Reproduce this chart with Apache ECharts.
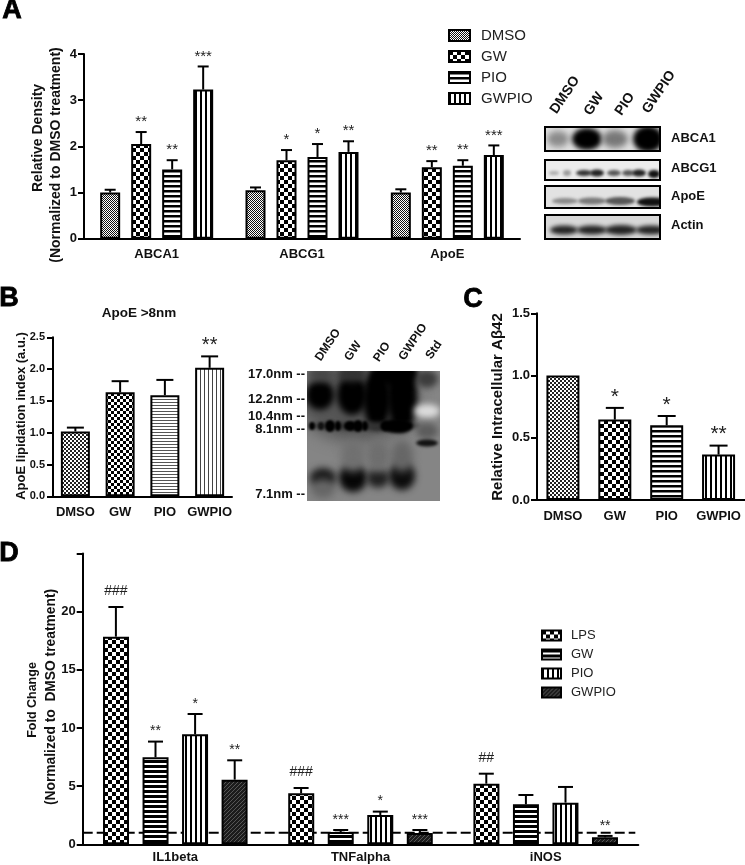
<!DOCTYPE html>
<html><head><meta charset="utf-8">
<style>html,body{margin:0;padding:0;background:#fff}#c{width:745px;height:865px}</style>
<script src="https://cdn.jsdelivr.net/npm/echarts@6/dist/echarts.min.js"></script>
</head><body><div id="c"></div>
<script>
// ---- data ----
const aCats = ['ABCA1','ABCG1','ApoE'];
const aNames = ['DMSO','GW','PIO','GWPIO'];
const aDMSO = [1.0,1.05,1.0];      const aDMSOErr = [1.06,1.11,1.07];
const aGW = [2.05,1.70,1.55];      const aGWErr = [2.31,1.92,1.68];
const aPIO = [1.50,1.77,1.58];     const aPIOErr = [1.70,2.05,1.70];
const aGWPIO = [3.23,1.88,1.81];   const aGWPIOErr = [3.73,2.11,2.02];
const aDMSOSig = ['','',''];       const aGWSig = ['**','*','**'];
const aPIOSig = ['**','*','**'];   const aGWPIOSig = ['***','**','***'];

const bCats = ['DMSO','GW','PIO','GWPIO'];
const bVals = [1.02,1.635,1.59,2.02];
const bErr = [1.08,1.81,1.83,2.20];
const bSig = ['','','','**'];

const cCats = ['DMSO','GW','PIO','GWPIO'];
const cVals = [1.0,0.646,0.60,0.365];
const cErr = [1.0,0.74,0.675,0.437];
const cSig = ['','*','*','**'];

const dCats = ['IL1beta','TNFalpha','iNOS'];
const dNames = ['LPS','GW','PIO','GWPIO'];
const dLPS = [17.85,4.38,5.21];    const dLPSErr = [20.4,4.84,6.07];
const dGW = [7.48,1.06,3.44];      const dGWErr = [8.83,1.23,4.24];
const dPIO = [9.46,2.52,3.58];     const dPIOErr = [11.2,2.81,4.93];
const dGWPIO = [5.56,0.97,0.60];   const dGWPIOErr = [7.22,1.23,0.72];
const dLPSSig = ['###','###','##']; const dGWSig = ['**','***',''];
const dPIOSig = ['*','*',''];      const dGWPIOSig = ['**','***','**'];
const dBaseline = [1];

// ---- patterns ----
const FONT = '"Liberation Sans", Arial, sans-serif';
function tile(w,h,draw){const c=document.createElement('canvas');c.width=w;c.height=h;const x=c.getContext('2d');x.fillStyle='#fff';x.fillRect(0,0,w,h);draw(x,w,h);return {image:c,repeat:'repeat'};}
const checker=(s,col)=>tile(s*2,s*2,(x)=>{x.fillStyle=col||'#000';x.fillRect(0,0,s,s);x.fillRect(s,s,s,s);});
const hLines=(p,t,col)=>tile(4,p,(x)=>{x.fillStyle=col||'#000';x.fillRect(0,0,4,t);});
const vLines=(p,t,col)=>tile(p,4,(x)=>{x.fillStyle=col||'#000';x.fillRect(0,0,t,4);});
const hatch=tile(4,4,(x)=>{x.fillStyle='#1c1c1c';x.fillRect(0,0,4,4);x.strokeStyle='#666';x.lineWidth=.8;x.beginPath();x.moveTo(-1,1);x.lineTo(1,-1);x.moveTo(0,4);x.lineTo(4,0);x.moveTo(3,5);x.lineTo(5,3);x.stroke();});

function xAxis(grid,cats,fs,margin){return {type:'category',gridIndex:grid,data:cats,boundaryGap:true,
  axisLine:{lineStyle:{color:'#000',width:2}},axisTick:{alignWithLabel:true,length:6,lineStyle:{color:'#000',width:2}},
  axisLabel:{interval:0,color:'#111',fontFamily:FONT,fontWeight:'bold',fontSize:fs,margin:margin},splitLine:{show:false}};}
function yAxis(grid,max,iv,fs,fmt,margin){return {type:'value',gridIndex:grid,min:0,max:max,interval:iv,
  axisLine:{show:true,lineStyle:{color:'#000',width:2}},axisTick:{show:true,length:6,lineStyle:{color:'#000',width:2}},
  axisLabel:{color:'#111',fontFamily:FONT,fontWeight:'bold',fontSize:fs,margin:margin,formatter:fmt,showMaxLabel:true,showMinLabel:true},splitLine:{show:false}};}

const series=[];
function errorSeries(grid,offset,vals,errs,sigs,o){
  series.push({type:'custom',xAxisIndex:grid,yAxisIndex:grid,z:4,silent:true,clip:false,tooltip:{show:false},
    data:vals.map((v,i)=>[i,v,errs[i]]),encode:{x:0,y:2},
    renderItem(params,api){
      const i=api.value(0),top=api.coord([i,api.value(2)]),base=api.coord([i,api.value(1)]);
      const x=top[0]+offset,ch=[];
      if(api.value(2)>api.value(1)){
        ch.push({type:'line',shape:{x1:x,y1:base[1],x2:x,y2:top[1]},style:{stroke:'#000',lineWidth:2}});
        ch.push({type:'line',shape:{x1:x-o.cap/2,y1:top[1],x2:x+o.cap/2,y2:top[1]},style:{stroke:'#000',lineWidth:2}});
      }
      const s=sigs[params.dataIndex];
      if(s){const hash=s[0]==='#';
        ch.push({type:'text',x:x,y:top[1]-(hash?o.hashGap:o.starGap),style:{text:s,fill:'#222',font:(hash?o.hashFs:o.starFs)+'px '+FONT,textAlign:'center',textVerticalAlign:'middle'}});}
      return {type:'group',children:ch};
    }});
}
function groupedBars(grid,names,vals,errs,sigs,pats,o){
  names.forEach((n,k)=>{
    series.push({type:'bar',name:n,xAxisIndex:grid,yAxisIndex:grid,z:3,barWidth:o.bw,barGap:o.gap,data:vals[k],
      itemStyle:{color:pats[k],borderColor:'#000',borderWidth:2}});
    errorSeries(grid,(k-(names.length-1)/2)*o.pitch,vals[k],errs[k],sigs[k],o);
  });
}
function singleBars(grid,vals,errs,sigs,pats,o){
  series.push({type:'bar',xAxisIndex:grid,yAxisIndex:grid,z:3,barWidth:o.bw,
    data:vals.map((v,i)=>({value:v,itemStyle:{color:pats[i],borderColor:'#000',borderWidth:2}}))});
  errorSeries(grid,0,vals,errs,sigs,o);
}

// A
groupedBars(0,aNames,[aDMSO,aGW,aPIO,aGWPIO],[aDMSOErr,aGWErr,aPIOErr,aGWPIOErr],[aDMSOSig,aGWSig,aPIOSig,aGWPIOSig],
  [checker(1,'#111'),checker(4),hLines(5,2.5),vLines(5,2)],
  {bw:20,gap:'55%',pitch:31,cap:11,starGap:10,starFs:15,hashGap:12,hashFs:14});
// B
singleBars(1,bVals,bErr,bSig,[checker(2,'#222'),checker(3),hLines(3,1,'#555'),vLines(4,1,'#444')],
  {bw:29,cap:17,starGap:11,starFs:20,hashGap:12,hashFs:14});
// C
singleBars(2,cVals,cErr,cSig,[checker(2,'#222'),checker(4),hLines(5,2.5),vLines(5,2)],
  {bw:33,cap:18,starGap:11,starFs:21,hashGap:12,hashFs:14});
// D
series.push({type:'custom',xAxisIndex:3,yAxisIndex:3,z:1,silent:true,data:dBaseline.map(v=>[0,v]),encode:{x:0,y:1},
  renderItem(p,api){const y=api.coord([0,api.value(1)])[1],cs=p.coordSys;
    return {type:'line',shape:{x1:cs.x,y1:y,x2:cs.x+cs.width-3,y2:y},style:{stroke:'#000',lineWidth:2,lineDash:[10,4]}};}});
groupedBars(3,dNames.map(n=>n+' ·D'),[dLPS,dGW,dPIO,dGWPIO],[dLPSErr,dGWErr,dPIOErr,dGWPIOErr],[dLPSSig,dGWSig,dPIOSig,dGWPIOSig],
  [checker(4),hLines(5,3),vLines(5,2),hatch],
  {bw:26,gap:'52%',pitch:39.6,cap:15,starGap:10,starFs:14,hashGap:16,hashFs:14});

// ---- blots (artwork, not chart data) ----
function blot(w,h,bg,bands){
  const c=document.createElement('canvas');c.width=w;c.height=h;const x=c.getContext('2d');
  x.fillStyle=bg;x.fillRect(0,0,w,h);
  bands.forEach(b=>{x.save();x.filter='blur('+(b[5]===undefined?2.5:b[5])+'px)';x.fillStyle=b[4];x.beginPath();x.ellipse(b[0],b[1],b[2],b[3],0,0,Math.PI*2);x.fill();x.restore();});
  return c;
}
function artwork(){
  const g=[];
  const strip=(x0,y0,w,h,bg,bands)=>{
    g.push({type:'image',x:x0,y:y0,style:{image:blot(w,h,bg,bands),x:0,y:0,width:w,height:h}});
    g.push({type:'rect',shape:{x:x0,y:y0,width:w,height:h},style:{fill:'none',stroke:'#000',lineWidth:2}});
  };
  strip(545,127,115,24,'#e0e0e0',[[13,12,11,8,'#8a8a8a',3],[42,12,15,11,'#000',2.5],[70,12,13,9,'#777',3],[103,12,15,13,'#000',2.5]]);
  strip(545,160,115,20,'#ececec',[[9,13,5,2,'#aaa',1.5],[22,13,4,3,'#999',1.5],[39,13,8,3,'#333',1.5],[52,13,7,3.5,'#222',1.5],[69,13,7,3,'#555',1.5],[83,13,6,3,'#555',1.5],[94,13,7,3.5,'#222',1.5],[109,14,6,4,'#111',1.5]]);
  strip(545,186,115,22,'#e2e2e2',[[20,15,13,3,'#888',1.5],[47,15,14,3.5,'#777',1.5],[75,15,15,4,'#555',1.5],[107,16,15,4.5,'#111',1.5]]);
  strip(545,215,115,24,'#d8d8d8',[[19,15,14,4.5,'#222',2],[47,15,15,4.5,'#222',2],[76,15,16,5,'#222',2],[106,15,15,4.5,'#222',2]]);
  const gel=blot(133,130,'#858585',[
    [50,30,60,40,'#555',8],
    [13,24,14,15,'#000',3],[45,24,15,20,'#000',3],[70,28,14,30,'#000',3],[95,25,15,36,'#000',3],
    [88,3,24,12,'#000',3],[45,3,14,8,'#333',3],[13,3,13,7,'#444',4],
    [58,55,56,4,'#333',2],
    [5,55,3,4,'#000',1],[14,55,3,4,'#111',1],[23,55,5,6,'#000',1],[31,55,3,5,'#000',1],[43,55,6,5,'#000',1],[51,55,5,6,'#000',1],[58,55,3,5,'#000',1],[78,55,4,5,'#000',1.5],[90,55,16,7,'#000',1.5],
    [16,107,13,10,'#181818',3.5],[46,107,14,14,'#060606',3.5],[71,107,11,10,'#202020',3.5],[95,105,13,14,'#0c0c0c',3.5],
    [71,85,11,16,'#6e6e6e',4],[95,85,11,16,'#666',4],[46,85,12,16,'#707070',4],[16,118,12,10,'#666',4],
    [120,8,11,9,'#3c3c3c',3],[120,40,13,7,'#dcdcdc',3],[120,60,11,8,'#5c5c5c',3],[120,72,11,3.5,'#111',1.5]]);
  g.push({type:'image',x:307,y:371,style:{image:gel,x:0,y:0,width:133,height:130}});
  const t=(text,x,y,fs,weight,rot,align,fill)=>g.push({type:'text',x:x,y:y,rotation:rot||0,z:10,
    style:{text:text,font:(weight||'bold')+' '+fs+'px '+FONT,fill:fill||'#111',textAlign:align||'center',textVerticalAlign:'middle'}});
  // panel letters
  [['A',12,11],['B',9,299],['C',473,300],['D',9,554]].forEach(a=>{
    g.push({type:'text',x:a[1],y:a[2],z:10,style:{text:a[0],font:'bold 27px '+FONT,fill:'#000',stroke:'#000',lineWidth:.8,textAlign:'center',textVerticalAlign:'middle'}});});
  const up=Math.PI/2, diag=Math.PI*56/180;
  // A
  t('Relative Density',38,138,14,'bold',up);
  t('(Normalized to DMSO treatment)',56,155,14,'bold',up);
  t('DMSO',565,95,14,'bold',diag);t('GW',594,104,14,'bold',diag);t('PIO',625,104,14,'bold',diag);t('GWPIO',659,92,14,'bold',diag);
  t('ABCA1',671,138,13,'bold',0,'left');t('ABCG1',671,168,13,'bold',0,'left');t('ApoE',671,196,13,'bold',0,'left');t('Actin',671,225,13,'bold',0,'left');
  // B
  t('ApoE >8nm',139,313,13.5,'bold');
  t('ApoE lipidation index (a.u.)',21,416,13,'bold',up);
  t('DMSO',328,345,12,'bold',diag);t('GW',353,351,12,'bold',diag);t('PIO',382,352,12,'bold',diag);t('GWPIO',413,342,12,'bold',diag);t('Std',434,350,12,'bold',diag);
  [['17.0nm --',374],['12.2nm --',399],['10.4nm --',416],['8.1nm --',429],['7.1nm --',494]].forEach(a=>t(a[0],305,a[1],13,'bold',0,'right'));
  // C
  t('Relative Intracellular A\u03b242',498,407,15,'bold',up);
  // D
  t('Fold Change',33,700,12.5,'bold',up);
  t('(Normalized to  DMSO treatment)',51,697,13.8,'bold',up);
  return g;
}

const chart=echarts.init(document.getElementById('c'),null,{renderer:'canvas'});
chart.setOption({
  animation:false,backgroundColor:'#fff',tooltip:{show:false},
  grid:[
    {left:84,top:54,width:436,height:184.7},
    {left:53,top:337.3,width:179,height:159},
    {left:537,top:313.3,width:207.5,height:186.7},
    {left:82.7,top:553.5,width:555.6,height:290.8}
  ],
  xAxis:[xAxis(0,aCats,13,9),xAxis(1,bCats,13,10),xAxis(2,cCats,13,10),xAxis(3,dCats,13,7)],
  yAxis:[
    yAxis(0,4,1,13,null,7),
    yAxis(1,2.5,0.5,11,v=>v.toFixed(1),8),
    yAxis(2,1.5,0.5,13,v=>v.toFixed(1),7),
    yAxis(3,25,5,13,v=>v===25?'':String(v),7)
  ],
  legend:[
    {orient:'vertical',selectedMode:false,icon:'rect',padding:0,data:aNames,left:448,top:28,itemWidth:21,itemHeight:11,itemGap:6,
      textStyle:{color:'#222',fontFamily:FONT,fontSize:15,padding:[0,0,0,6]}},
    {orient:'vertical',selectedMode:false,icon:'rect',padding:0,data:dNames.map(n=>n+' ·D'),left:541,top:629,itemWidth:19,itemHeight:10,itemGap:6,
      formatter:n=>n.replace(' ·D',''),textStyle:{color:'#222',fontFamily:FONT,fontSize:13,padding:[0,0,0,5]}}
  ],
  series:series,
  graphic:{elements:artwork()}
});
</script></body></html>
